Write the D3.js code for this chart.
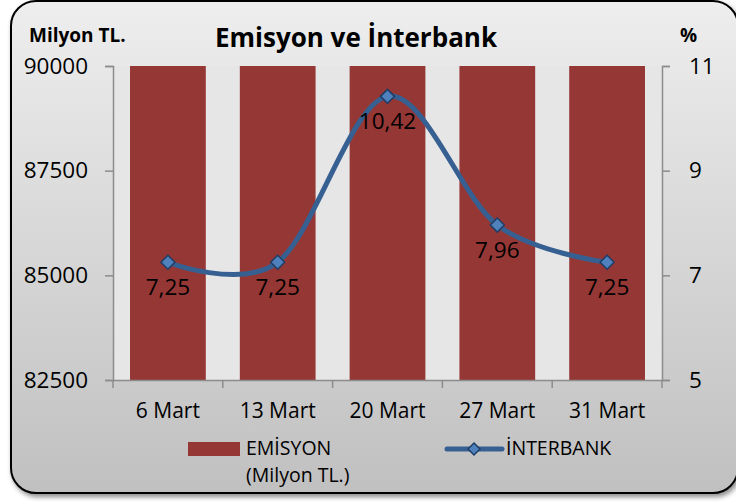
<!DOCTYPE html>
<html><head><meta charset="utf-8">
<script src="https://cdn.jsdelivr.net/npm/d3@7"></script>
<style>
html,body{margin:0;padding:0;background:#fff;}
svg{display:block;font-family:"Open Sans",sans-serif;}
</style></head>
<body>
<script>
const categories = ["6 Mart","13 Mart","20 Mart","27 Mart","31 Mart"];
// EMİSYON bars reach beyond the top of the axis in the reference (clipped at 90000)
const emisyon = [90000, 90000, 90000, 90000, 90000];
const interbank = [7.25, 7.25, 10.42, 7.96, 7.25];
const interbankLabels = ["7,25","7,25","10,42","7,96","7,25"];
const leftTicks = [82500, 85000, 87500, 90000];
const rightTicks = [5, 7, 9, 11];

const W = 736, H = 502;
const FONT = "'Open Sans', sans-serif";
const svg = d3.select("body").append("svg").attr("width", W).attr("height", H);
const defs = svg.append("defs");
const grad = defs.append("linearGradient").attr("id","bg").attr("x1",0).attr("y1",0).attr("x2",0).attr("y2",1);
grad.append("stop").attr("offset","0%").attr("stop-color","#eeeeee");
grad.append("stop").attr("offset","100%").attr("stop-color","#c0c0c0");
const f = defs.append("filter").attr("id","sh").attr("x","-5%").attr("y","-5%").attr("width","115%").attr("height","115%");
f.append("feDropShadow").attr("dx",2).attr("dy",3).attr("stdDeviation",2.5).attr("flood-color","#000").attr("flood-opacity",0.45);

svg.append("rect").attr("x",11).attr("y",1).attr("width",727).attr("height",492)
  .attr("rx",25).attr("ry",25).attr("fill","url(#bg)").attr("stroke","#000").attr("stroke-width",2)
  .attr("filter","url(#sh)");

const L = 113, R = 662, T = 66, B = 380;
const x = d3.scaleBand().domain(categories).range([L, R]).paddingInner(0.31).paddingOuter(0.155);
const xb = d3.scaleBand().domain(categories).range([L, R]).padding(0);
const yL = d3.scaleLinear().domain([82500, 90000]).range([B, T]);
const yR = d3.scaleLinear().domain([5, 11]).range([B, T]);

svg.append("rect").attr("x",L).attr("y",T).attr("width",R-L).attr("height",B-T).attr("fill","#e6e6e6");

svg.append("g").selectAll("rect").data(categories).join("rect")
  .attr("x", d => x(d)).attr("width", x.bandwidth())
  .attr("y", (d,i) => yL(Math.min(emisyon[i], 90000)))
  .attr("height", (d,i) => B - yL(Math.min(emisyon[i], 90000)))
  .attr("fill", "#953735");

const axisColor = "#8c8c8c";
const gl = svg.append("g").attr("transform",`translate(${L},0)`)
  .call(d3.axisLeft(yL).tickValues(leftTicks).tickSize(8).tickPadding(17).tickFormat(d3.format("d")));
const gr = svg.append("g").attr("transform",`translate(${R},0)`)
  .call(d3.axisRight(yR).tickValues(rightTicks).tickSize(8).tickPadding(19).tickFormat(d3.format("d")));
const gb = svg.append("g").attr("transform",`translate(0,${B})`)
  .call(d3.axisBottom(xb).tickSize(0).tickPadding(14));
svg.append("g").selectAll("line").data(categories.concat(["end"])).join("line")
  .attr("x1",(d,i)=> L + i*xb.step()).attr("x2",(d,i)=> L + i*xb.step())
  .attr("y1",B).attr("y2",B+8).attr("stroke",axisColor).attr("stroke-width",1.5);

[gl,gr,gb].forEach(g=>{
  g.select(".domain").attr("stroke",axisColor).attr("stroke-width",1.5);
  g.selectAll(".tick line").attr("stroke",axisColor).attr("stroke-width",1.5);
  g.selectAll("text").attr("font-family",FONT).attr("fill","#000");
});
gl.selectAll("text").attr("font-size",22.5);
gr.selectAll("text").attr("font-size",22.5).attr("text-anchor","start");
gb.selectAll("text").attr("font-size",21).attr("y",38).attr("dy",0);
gb.select(".domain").attr("d",`M${L},0.5H${R}`);

// line
const pts = categories.map((c,i)=>[xb(c)+xb.bandwidth()/2, yR(interbank[i])]);
svg.append("path").attr("d", d3.line().curve(d3.curveCatmullRom.alpha(0))(pts))
  .attr("fill","none").attr("stroke","#376092").attr("stroke-width",5).attr("stroke-linecap","round");
svg.append("g").selectAll("path").data(pts).join("path")
  .attr("transform",d=>`translate(${d[0]},${d[1]})`)
  .attr("d","M0,-7L7,0L0,7L-7,0Z").attr("fill","#4f81bd").attr("stroke","#1f3d66").attr("stroke-width",1.5);

svg.append("g").selectAll("text").data(pts).join("text")
  .attr("x",d=>d[0]).attr("y",d=>d[1]+33).attr("text-anchor","middle")
  .attr("font-size",22.5).attr("fill","#000").text((d,i)=>interbankLabels[i]);

// titles
svg.append("text").attr("x",356).attr("y",47).attr("text-anchor","middle")
  .attr("font-size",26).attr("font-weight","bold").text("Emisyon ve İnterbank");
svg.append("text").attr("x",29).attr("y",42).attr("font-size",19).attr("font-weight","bold").text("Milyon TL.");
svg.append("text").attr("x",680).attr("y",42).attr("font-size",19).attr("font-weight","bold").text("%");

// legend
svg.append("rect").attr("x",188).attr("y",442).attr("width",52).attr("height",14).attr("fill","#953735");
svg.append("text").attr("x",246).attr("y",455).attr("font-size",19.5).text("EMİSYON");
svg.append("text").attr("x",246).attr("y",482).attr("font-size",19.5).text("(Milyon TL.)");
svg.append("line").attr("x1",447).attr("x2",502).attr("y1",449).attr("y2",449)
  .attr("stroke","#376092").attr("stroke-width",5).attr("stroke-linecap","round");
svg.append("path").attr("transform","translate(474,449)").attr("d","M0,-6L6,0L0,6L-6,0Z")
  .attr("fill","#4f81bd").attr("stroke","#1f3d66").attr("stroke-width",1.5);
svg.append("text").attr("x",506).attr("y",455).attr("font-size",19.5).text("İNTERBANK");
</script>
</body></html>
